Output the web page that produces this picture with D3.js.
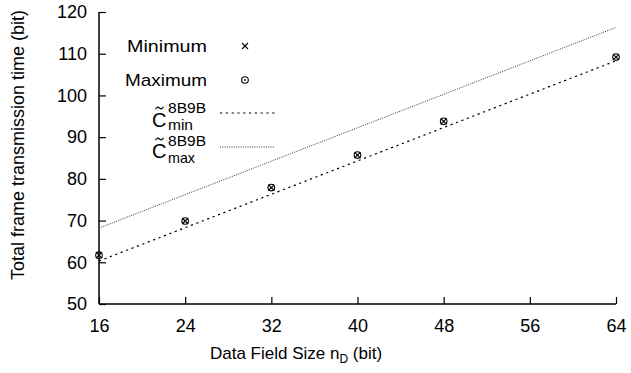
<!DOCTYPE html>
<html>
<head>
<meta charset="utf-8">
<script src="https://cdn.jsdelivr.net/npm/d3@7"></script>
<style>
  html, body { margin: 0; padding: 0; background: #fff; }
  svg { display: block; font-family: "Liberation Sans", Arial, Helvetica, sans-serif; }
</style>
</head>
<body>
<svg id="chart" width="631" height="373"></svg>
<script>
// ---- data ----
const dataFieldSizes = [16, 24, 32, 40, 48, 64];
const minimumValues = [61.7, 69.9, 77.9, 85.7, 93.8, 109.2];
const maximumValues = [61.7, 69.9, 77.9, 85.7, 93.8, 109.2];
const cMinLineX = [16, 64];
const cMinLineY = [60.3, 108.3];
const cMaxLineX = [16, 64];
const cMaxLineY = [68.2, 116.3];
const xTicks = [16, 24, 32, 40, 48, 56, 64];
const yTicks = [50, 60, 70, 80, 90, 100, 110, 120];

const svg = d3.select("#chart");
const mLeft = 99, mRight = 616, mTop = 12, mBottom = 304;

const x = d3.scaleLinear().domain([16, 64]).range([mLeft, mRight]);
const y = d3.scaleLinear().domain([50, 120]).range([mBottom, mTop]);

// axes
const xAxis = d3.axisBottom(x).tickValues(xTicks).tickSize(-7).tickPadding(15).tickFormat(d3.format("d"));
const yAxis = d3.axisLeft(y).tickValues(yTicks).tickSize(-7).tickPadding(12).tickFormat(d3.format("d"));

const gx = svg.append("g").attr("transform", `translate(0,${mBottom})`).call(xAxis);
const gy = svg.append("g").attr("transform", `translate(${mLeft},0)`).call(yAxis);
[gx, gy].forEach(g => {
  g.select(".domain").attr("stroke", "#000").attr("stroke-width", 1.5);
  g.selectAll(".tick line").attr("stroke", "#000").attr("stroke-width", 1.2);
  g.selectAll(".tick text").attr("fill", "#000").style("font-size", "18px")
    .style("font-family", '"Liberation Sans", Arial, sans-serif');
});
gx.select(".domain").attr("d", `M${mLeft},0H${mRight}`);
gy.select(".domain").attr("d", `M0,${mBottom}V${mTop}`);

// lines
const lineGen = d3.line().x(d => x(d[0])).y(d => y(d[1]));
const cMinPts = cMinLineX.map((v, i) => [v, cMinLineY[i]]);
const cMaxPts = cMaxLineX.map((v, i) => [v, cMaxLineY[i]]);

svg.append("path").datum(cMaxPts).attr("d", lineGen)
  .attr("fill", "none").attr("stroke", "#333").attr("stroke-width", 1)
  .attr("stroke-dasharray", "1,1.3");
svg.append("path").datum(cMinPts).attr("d", lineGen)
  .attr("fill", "none").attr("stroke", "#000").attr("stroke-width", 1.2)
  .attr("stroke-dasharray", "2.2,3.6");

// markers
function drawCross(g, cx, cy) {
  const s = 3;
  g.append("path").attr("d", `M${cx - s},${cy - s}L${cx + s},${cy + s}M${cx - s},${cy + s}L${cx + s},${cy - s}`)
    .attr("stroke", "#000").attr("stroke-width", 1.1).attr("fill", "none");
}
function drawCircleDot(g, cx, cy) {
  g.append("circle").attr("cx", cx).attr("cy", cy).attr("r", 3.3)
    .attr("stroke", "#000").attr("stroke-width", 1.1).attr("fill", "none");
  g.append("circle").attr("cx", cx).attr("cy", cy).attr("r", 0.9).attr("fill", "#000");
}
const pts = svg.append("g");
dataFieldSizes.forEach((d, i) => {
  drawCross(pts, x(d), y(minimumValues[i]));
  drawCircleDot(pts, x(d), y(maximumValues[i]));
});

// axis titles
svg.append("text").attr("x", 296).attr("y", 359).attr("text-anchor", "middle")
  .style("font-size", "17px")
  .html('Data Field Size n<tspan baseline-shift="-4" font-size="12">D</tspan><tspan> (bit)</tspan>');

svg.append("text").attr("transform", "translate(24,145) rotate(-90)").attr("text-anchor", "middle")
  .style("font-size", "18px").text("Total frame transmission time (bit)");

// legend
const lg = svg.append("g").style("font-size", "17px");
lg.append("text").attr("x", 207).attr("y", 52).attr("text-anchor", "end")
  .attr("textLength", 80).attr("lengthAdjust", "spacingAndGlyphs").text("Minimum");
drawCross(lg, 245, 46);
lg.append("text").attr("x", 207).attr("y", 86).attr("text-anchor", "end")
  .attr("textLength", 82).attr("lengthAdjust", "spacingAndGlyphs").text("Maximum");
drawCircleDot(lg, 245, 80);

function cLabel(yBase, sub, supBase, subBase) {
  lg.append("text").attr("x", 152).attr("y", yBase).style("font-size", "20px").text("C");
  // tilde accent above C
  const tx = 159.5, ty = yBase - 19;
  lg.append("path")
    .attr("d", `M${tx - 4},${ty + 1.2}C${tx - 2.5},${ty - 1.8} ${tx - 1},${ty - 1} ${tx},${ty}S${tx + 2.5},${ty + 1.8} ${tx + 4},${ty - 1.2}`)
    .attr("fill", "none").attr("stroke", "#000").attr("stroke-width", 1.1);
  lg.append("text").attr("x", 168).attr("y", supBase).style("font-size", "14.5px")
    .attr("textLength", 38).attr("lengthAdjust", "spacingAndGlyphs").text("8B9B");
  lg.append("text").attr("x", 168).attr("y", subBase).style("font-size", "14.5px")
    .attr("textLength", sub === "min" ? 25 : 27).attr("lengthAdjust", "spacingAndGlyphs").text(sub);
}
cLabel(127, "min", 113, 129.5);
cLabel(158, "max", 146, 163);

lg.append("line").attr("x1", 220).attr("x2", 275).attr("y1", 113).attr("y2", 113)
  .attr("stroke", "#000").attr("stroke-width", 1.2).attr("stroke-dasharray", "2.2,3.6");
lg.append("line").attr("x1", 220).attr("x2", 275).attr("y1", 147).attr("y2", 147)
  .attr("stroke", "#333").attr("stroke-width", 1).attr("stroke-dasharray", "1,1.3");
</script>
</body>
</html>
